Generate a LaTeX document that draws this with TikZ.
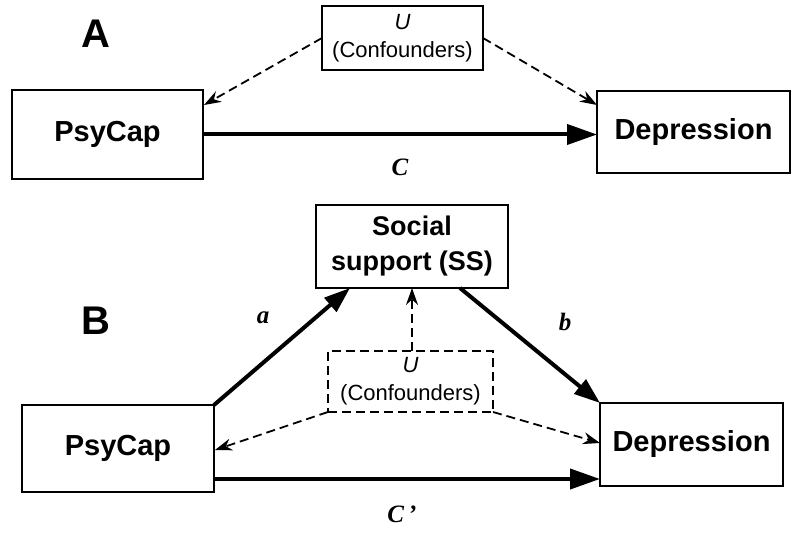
\documentclass[tikz,border=0pt]{standalone}
\usepackage{fontspec}
\setmainfont{Liberation Sans}
\newfontfamily\lblfont{Liberation Serif}
\usetikzlibrary{arrows.meta,calc}
\tikzset{
  box/.style={draw, line width=1.5pt, inner sep=0pt, outer sep=0pt, align=center,
    font=\bfseries\fontsize{29}{34}\selectfont},
  ubox/.style={draw, line width=1.5pt, inner sep=0pt, outer sep=0pt, align=center,
    font=\fontsize{22}{28}\selectfont},
  dashbox/.style={ubox, dash pattern=on 9pt off 5pt},
  thickarrow/.style={line width=4pt, -{Triangle[length=30pt,width=20pt]}},
  diagarrow/.style={line width=4pt, -{Triangle[length=26pt,width=18pt]}},
  dasharrow/.style={line width=1.8pt, dash pattern=on 9pt off 5pt, -{Stealth[length=17pt,width=12pt]}},
  pathlbl/.style={font=\lblfont\bfseries\itshape\fontsize{25}{28}\selectfont},
  panellbl/.style={font=\bfseries\fontsize{40}{44}\selectfont}
}
\begin{document}
\begin{tikzpicture}[x=1pt,y=-1pt]
\useasboundingbox (0,0) rectangle (800,534);
\fill[white] (0,0) rectangle (800,534);
% Panel A
\node[panellbl] (lblA) at (96,34) {A};
\node[box, minimum width=191pt, minimum height=89pt] (PsyA) at (107.5,134.5) {PsyCap};
\node[box, minimum width=193pt, minimum height=82pt] (DepA) at (693.5,132) {Depression};
\node[ubox, minimum width=161pt, minimum height=64pt] (UA) at (402.5,38) {\textit{U}\\(Confounders)};
\draw[thickarrow] (PsyA.east) -- (PsyA.east -| DepA.west);
\draw[dasharrow] (UA.west) -- ($(PsyA.north east)+(1,15)$);
\draw[dasharrow] (UA.east) -- ($(DepA.north west)+(0,14)$);
\node[pathlbl] (cA) at (400,167) {C};
% Panel B
\node[panellbl] (lblB) at (96,321) {B};
\node[box, minimum width=192pt, minimum height=83pt, font=\bfseries\fontsize{27}{35}\selectfont] (SS) at (412,246.5) {Social\\support (SS)};
\node[dashbox, minimum width=165pt, minimum height=61pt] (UB) at (410.5,381.5) {\textit{U}\\(Confounders)};
\node[box, minimum width=192pt, minimum height=87pt] (PsyB) at (118,448.5) {PsyCap};
\node[box, minimum width=183pt, minimum height=83pt] (DepB) at (691.5,444.5) {Depression};
\draw[diagarrow] (PsyB.north east) -- ($(SS.south west)+(34,0)$);
\draw[diagarrow] ($(SS.south east)+(-48,0)$) -- (DepB.north west);
\draw[dasharrow] (UB.north -| SS.south) -- (SS.south);
\draw[dasharrow] (UB.south west) -- ($(PsyB.east)+(1,1.5)$);
\draw[dasharrow] (UB.south east) -- ($(DepB.west)+(0,-1.5)$);
\coordinate (cpstart) at ($(PsyB.east)+(0,30.5)$);
\draw[thickarrow] (cpstart) -- (cpstart -| DepB.west);
\node[pathlbl] (la) at (263,318) {a};
\node[pathlbl] (lb) at (565,322) {b};
\node[pathlbl] (cB) at (402,514) {C\,’};
\end{tikzpicture}
\end{document}
